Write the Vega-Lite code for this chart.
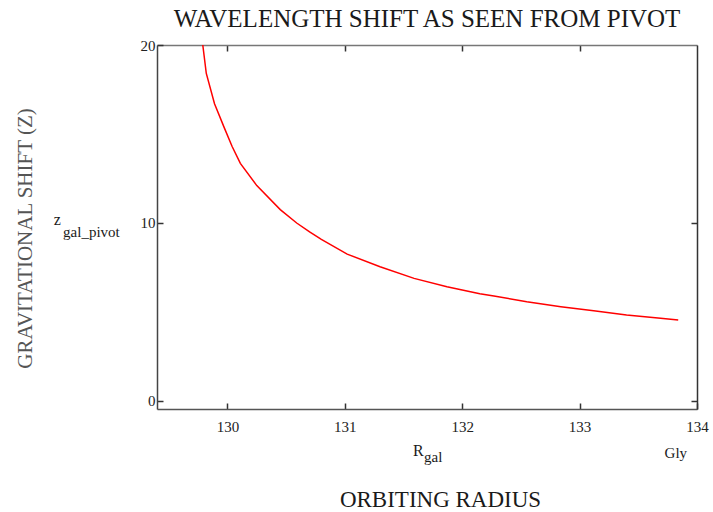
{
  "$schema": "https://vega.github.io/schema/vega-lite/v6.json",
  "width": 540,
  "height": 364,
  "autosize": "none",
  "padding": {"left": 157, "top": 45, "right": 16, "bottom": 103},
  "background": "white",
  "config": {
    "view": {"stroke": null},
    "font": "Liberation Serif",
    "text": {"font": "Liberation Serif"},
    "axis": {"grid": false, "labelFont": "Liberation Serif", "titleFont": "Liberation Serif", "labelFlush": false, "labelOverlap": false}
  },
  "title": {
    "text": "WAVELENGTH SHIFT AS SEEN FROM PIVOT",
    "font": "Liberation Serif",
    "fontSize": 25,
    "fontWeight": "normal",
    "color": "#1a1a1a",
    "anchor": "middle",
    "offset": 6
  },
  "data": {
    "values": [
      {"R": 129.79, "z": 20.0},
      {"R": 129.82, "z": 18.4},
      {"R": 129.89, "z": 16.7},
      {"R": 129.97, "z": 15.4},
      {"R": 130.04, "z": 14.3},
      {"R": 130.11, "z": 13.35},
      {"R": 130.25, "z": 12.1},
      {"R": 130.45, "z": 10.75},
      {"R": 130.59, "z": 10.0},
      {"R": 130.70, "z": 9.5},
      {"R": 130.80, "z": 9.08},
      {"R": 131.02, "z": 8.25},
      {"R": 131.30, "z": 7.54},
      {"R": 131.59, "z": 6.89},
      {"R": 131.87, "z": 6.42},
      {"R": 132.0, "z": 6.24},
      {"R": 132.15, "z": 6.03},
      {"R": 132.27, "z": 5.9},
      {"R": 132.55, "z": 5.58},
      {"R": 132.84, "z": 5.3},
      {"R": 133.12, "z": 5.07},
      {"R": 133.40, "z": 4.83},
      {"R": 133.69, "z": 4.65},
      {"R": 133.84, "z": 4.55}
    ]
  },
  "layer": [
    {
      "mark": {"type": "line", "color": "#ff0000", "strokeWidth": 1.5, "clip": true},
      "encoding": {
        "x": {
          "field": "R", "type": "quantitative",
          "scale": {"domain": [129.4, 134], "nice": false, "zero": false},
          "axis": {
            "orient": "bottom",
            "values": [130, 131, 132, 133, 134],
            "format": "d",
            "tickSize": -6,
            "tickColor": "#333",
            "tickWidth": 1.5,
            "domainColor": "#555",
            "domainWidth": 1.5,
            "labelPadding": 16,
            "labelFont": "Liberation Serif",
            "labelFontSize": 15,
            "labelColor": "#222",
            "labelFlush": false,
            "title": "ORBITING RADIUS",
            "titleFontSize": 23,
            "titleFontWeight": "normal",
            "titleColor": "#1a1a1a",
            "titleX": 283,
            "titleY": 97,
            "titleBaseline": "alphabetic"
          }
        },
        "y": {
          "field": "z", "type": "quantitative",
          "scale": {"domain": [-0.45, 20], "nice": false, "zero": false},
          "axis": {
            "orient": "left",
            "values": [0, 10, 20],
            "tickSize": -6,
            "tickColor": "#333",
            "tickWidth": 1.5,
            "domainColor": "#444",
            "domainWidth": 1.5,
            "labelPadding": 8,
            "labelFont": "Liberation Serif",
            "labelFontSize": 15,
            "labelColor": "#222",
            "labelFlush": false,
            "title": "GRAVITATIONAL SHIFT (Z)",
            "titleFontSize": 21,
            "titleFontWeight": "normal",
            "titleColor": "#555",
            "titleAngle": 270,
            "titleAlign": "center",
            "titleBaseline": "middle",
            "titleX": -132,
            "titleY": 193
          }
        }
      }
    },
    {
      "mark": {"type": "line", "opacity": 0},
      "encoding": {
        "x": {
          "field": "R", "type": "quantitative",
          "scale": {"domain": [129.4, 134], "nice": false, "zero": false},
          "axis": {
            "orient": "top",
            "values": [130, 131, 132, 133],
            "labels": false,
            "title": null,
            "tickSize": -6,
            "tickColor": "#333",
            "tickWidth": 1.5,
            "domainColor": "#777",
            "domainWidth": 1.5
          }
        },
        "y": {
          "field": "z", "type": "quantitative",
          "scale": {"domain": [-0.45, 20], "nice": false, "zero": false},
          "axis": {
            "orient": "right",
            "values": [0, 10],
            "labels": false,
            "title": null,
            "tickSize": -6,
            "tickColor": "#333",
            "tickWidth": 1.5,
            "domainColor": "#333",
            "domainWidth": 1.5
          }
        }
      }
    },
    {
      "data": {"values": [{"label": "z"}]},
      "mark": {"type": "text", "font": "Liberation Serif", "fontSize": 16, "align": "left", "baseline": "alphabetic", "fill": "#1a1a1a", "fontWeight": "normal"},
      "encoding": {
        "text": {"field": "label"},
        "x": {"datum": 128.52, "type": "quantitative", "scale": {"domain": [129.4, 134], "nice": false, "zero": false}, "axis": null},
        "y": {"datum": 9.9, "type": "quantitative", "scale": {"domain": [-0.45, 20], "nice": false, "zero": false}, "axis": null}
      }
    },
    {
      "data": {"values": [{"label": "gal_pivot"}]},
      "mark": {"type": "text", "font": "Liberation Serif", "fontSize": 15, "align": "left", "baseline": "alphabetic", "fill": "#1a1a1a", "fontWeight": "normal"},
      "encoding": {
        "text": {"field": "label"},
        "x": {"datum": 128.6, "type": "quantitative", "scale": {"domain": [129.4, 134], "nice": false, "zero": false}, "axis": null},
        "y": {"datum": 9.2, "type": "quantitative", "scale": {"domain": [-0.45, 20], "nice": false, "zero": false}, "axis": null}
      }
    },
    {
      "data": {"values": [{"label": "R"}]},
      "mark": {"type": "text", "font": "Liberation Serif", "fontSize": 16, "align": "left", "baseline": "alphabetic", "fill": "#1a1a1a", "fontWeight": "normal"},
      "encoding": {
        "text": {"field": "label"},
        "x": {"datum": 131.58, "type": "quantitative", "scale": {"domain": [129.4, 134], "nice": false, "zero": false}, "axis": null},
        "y": {"datum": -3.1, "type": "quantitative", "scale": {"domain": [-0.45, 20], "nice": false, "zero": false}, "axis": null}
      }
    },
    {
      "data": {"values": [{"label": "gal"}]},
      "mark": {"type": "text", "font": "Liberation Serif", "fontSize": 15, "align": "left", "baseline": "alphabetic", "fill": "#1a1a1a", "fontWeight": "normal"},
      "encoding": {
        "text": {"field": "label"},
        "x": {"datum": 131.675, "type": "quantitative", "scale": {"domain": [129.4, 134], "nice": false, "zero": false}, "axis": null},
        "y": {"datum": -3.45, "type": "quantitative", "scale": {"domain": [-0.45, 20], "nice": false, "zero": false}, "axis": null}
      }
    },
    {
      "data": {"values": [{"label": "Gly"}]},
      "mark": {"type": "text", "font": "Liberation Serif", "fontSize": 15, "align": "center", "baseline": "alphabetic", "fill": "#1a1a1a", "fontWeight": "normal"},
      "encoding": {
        "text": {"field": "label"},
        "x": {"datum": 133.82, "type": "quantitative", "scale": {"domain": [129.4, 134], "nice": false, "zero": false}, "axis": null},
        "y": {"datum": -3.2, "type": "quantitative", "scale": {"domain": [-0.45, 20], "nice": false, "zero": false}, "axis": null}
      }
    }
  ],
  "resolve": {"axis": {"x": "independent", "y": "independent"}}
}
